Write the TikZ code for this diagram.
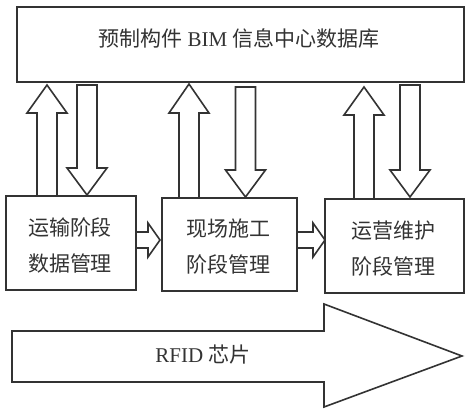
\documentclass[tikz,border=0pt]{standalone}
\usepackage{fontspec}
\setmainfont{Liberation Serif}
\newfontfamily\cjk{Noto Sans CJK SC}
\newcommand\blkup[4]{% xc, tip y, head base y, bottom y
  \fill[white] ({#1-10},#4) -- ({#1-10},#3) -- ({#1-20},#3) -- (#1,#2) -- ({#1+20},#3) -- ({#1+10},#3) -- ({#1+10},#4) -- cycle;
  \draw[ln] ({#1-10},#4) -- ({#1-10},#3) -- ({#1-20},#3) -- (#1,#2) -- ({#1+20},#3) -- ({#1+10},#3) -- ({#1+10},#4);}
\newcommand\blkdown[4]{% xc, top y, head base y, tip y
  \draw[blk] ({#1-10},#2) -- ({#1-10},#3) -- ({#1-20},#3) -- (#1,#4) -- ({#1+20},#3) -- ({#1+10},#3) -- ({#1+10},#2) -- cycle;}
\newcommand\blkright[3]{% x start, head base x, tip x
  \fill[white] (#1,232) -- (#2,232) -- (#2,223) -- (#3,240) -- (#2,257) -- (#2,248) -- (#1,248) -- cycle;
  \draw[ln] (#1,232) -- (#2,232) -- (#2,223) -- (#3,240) -- (#2,257) -- (#2,248) -- (#1,248);}
\begin{document}
\begin{tikzpicture}[x=1pt,y=-1pt,
  ln/.style={draw=black!80, line width=1.6pt, line join=miter},
  blk/.style={ln, fill=white},
  box/.style={ln, fill=white, inner sep=0pt, anchor=north west},
  txt/.style={text=black!80, font=\fontsize{21}{36}\selectfont, align=center, inner sep=0pt},
]
\useasboundingbox (0,0) rectangle (472,413);
\fill[white] (0,0) rectangle (472,413);

% vertical block arrows
\blkup{47}{85}{113}{195}
\blkdown{87}{85}{168}{195}
\blkup{189}{84}{113}{197}
\blkdown{245.5}{87}{170}{197}
\blkup{364}{87}{115}{198}
\blkdown{410}{85}{170}{197}

% horizontal block arrows
\blkright{135}{148}{160}
\blkright{296}{313}{325}

% boxes
\node[box, minimum width=447pt, minimum height=75pt] (db) at (16,6) {};
\node[box, minimum width=130pt, minimum height=94pt] (b1) at (5,195) {};
\node[box, minimum width=135pt, minimum height=93pt] (b2) at (161,197) {};
\node[box, minimum width=139pt, minimum height=94pt] (b3) at (324,198) {};

% texts
\node[txt] (tdb) at (239,38) {{\cjk 预制构件} BIM {\cjk 信息中心数据库}};
\node[txt] (t1) at (70,245) {\cjk 运输阶段\\\cjk 数据管理};
\node[txt] (t2) at (228.5,246.5) {\cjk 现场施工\\\cjk 阶段管理};
\node[txt] (t3) at (393,248.5) {\cjk 运营维护\\\cjk 阶段管理};

% RFID big arrow
\draw[blk] (12,331) -- (324,331) -- (324,304) -- (462,356) -- (324,407) -- (324,382) -- (12,382) -- cycle;
\node[txt] (trfid) at (203,355) {RFID {\cjk 芯片}};
\end{tikzpicture}
\end{document}
